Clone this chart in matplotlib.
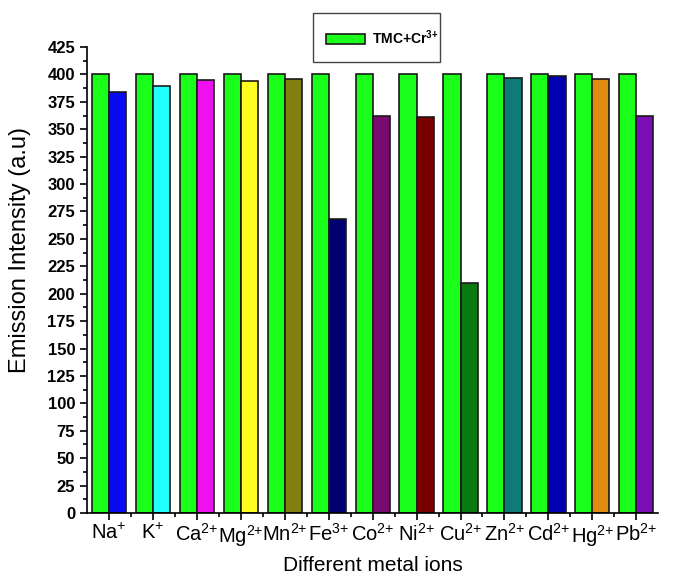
import matplotlib
matplotlib.use('Agg')
import matplotlib.pyplot as plt
import numpy as np
from matplotlib.ticker import MultipleLocator
from matplotlib.patches import Rectangle

plt.rcParams['font.family'] = ['Liberation Sans', 'DejaVu Sans']
plt.rcParams['mathtext.fontset'] = 'custom'
plt.rcParams['mathtext.rm'] = 'Liberation Sans'
plt.rcParams['mathtext.bf'] = 'Liberation Sans:bold'

ions = ['Na$^{+}$', 'K$^{+}$', 'Ca$^{2{+}}$', 'Mg$^{2{+}}$', 'Mn$^{2{+}}$',
        'Fe$^{3{+}}$', 'Co$^{2{+}}$', 'Ni$^{2{+}}$', 'Cu$^{2{+}}$', 'Zn$^{2{+}}$',
        'Cd$^{2{+}}$', 'Hg$^{2{+}}$', 'Pb$^{2{+}}$']
tmc_cr = [400] * 13
with_ion = [384, 389, 395, 394, 396, 268, 362, 361, 210, 397, 399, 396, 362]
ion_colors = ['#0a0af0', '#22ffff', '#ee10ee', '#ffff22', '#808010', '#000070',
              '#7a0a70', '#7a0000', '#0a7a10', '#0e7a7a', '#0000b0', '#e08a10',
              '#7b0fb5']

fig = plt.figure(figsize=(6.8, 5.77), dpi=100)
ax = fig.add_axes([0.128, 0.111, 0.84, 0.8075])

x = np.arange(len(ions))
w = 0.39
ax.bar(x - w / 2, tmc_cr, w, color='#19ff19', edgecolor='#1a1a1a', linewidth=1.2,
       label=r'TMC+Cr$^{\mathbf{3{+}}}$')
ax.bar(x + w / 2, with_ion, w, color=ion_colors, edgecolor='#1a1a1a', linewidth=1.2)

ax.set_xlim(-0.5, 12.5)
ax.set_ylim(0, 425)
ax.yaxis.set_major_locator(MultipleLocator(25))
ax.yaxis.set_minor_locator(MultipleLocator(12.5))
ax.set_xticks(x)
ax.set_xticks(x[:-1] + 0.5, minor=True)
ax.set_xticklabels(ions, fontsize=14.5)
for lab in ax.get_yticklabels():
    lab.set_fontweight('bold')
    lab.set_fontsize(12)
ax.tick_params(axis='both', which='major', direction='out', length=5, width=1.2)
ax.tick_params(axis='both', which='minor', direction='out', length=3, width=1.2)
ax.tick_params(axis='x', pad=2)
ax.spines['top'].set_visible(False)
ax.spines['right'].set_visible(False)
ax.spines['left'].set_linewidth(1.2)
ax.spines['bottom'].set_linewidth(1.2)

ax.set_xlabel('Different metal ions', fontsize=15, labelpad=5)
ax.set_ylabel('Emission Intensity (a.u)', fontsize=17)
ax.yaxis.set_label_coords(-0.098, 0.565)

# legend box drawn taller than its single entry, as in the original
fig.patches.append(Rectangle((313 / 680, 1 - 62 / 577), 127 / 680, 49 / 577,
                             transform=fig.transFigure, fill=False,
                             edgecolor='#444444', linewidth=1))
leg = fig.legend(loc='upper left', bbox_to_anchor=(315 / 680, 1 - 17 / 577),
                 frameon=False, fontsize=10, borderpad=0.3, handlelength=2.8,
                 handleheight=0.75, handletextpad=0.5)
for t in leg.get_texts():
    t.set_fontweight('bold')

fig.savefig('out.png', dpi=100)
